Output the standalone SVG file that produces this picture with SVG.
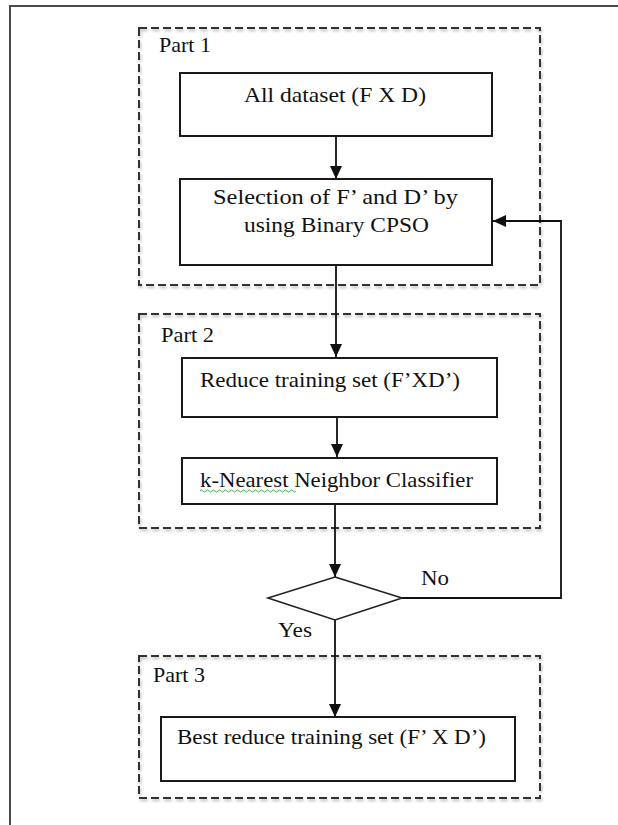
<svg xmlns="http://www.w3.org/2000/svg" width="618" height="825" viewBox="0 0 618 825">
  <style>
    .frame { fill: none; stroke: #4a4a4a; stroke-width: 2; }
    .part { fill: none; stroke: #333; stroke-width: 2; stroke-dasharray: 8 4; filter: url(#shadow); }
    .box { fill: #fff; stroke: #1a1a1a; stroke-width: 2; }
    .dec { fill: #fff; stroke: #222; stroke-width: 1.6; }
    .conn { fill: none; stroke: #111; stroke-width: 1.8; }
    text { font-family: "Liberation Serif", "Times New Roman", serif; font-size: 22px; fill: #111; }
    .squiggle { fill: none; stroke: #4caf50; stroke-width: 1; }
  </style>
  <defs>
    <filter id="shadow" x="-5%" y="-5%" width="110%" height="110%">
      <feGaussianBlur in="SourceAlpha" stdDeviation="1.5"/>
      <feOffset dx="1" dy="2" result="b"/>
      <feComponentTransfer><feFuncA type="linear" slope="0.3"/></feComponentTransfer>
      <feMerge><feMergeNode/><feMergeNode in="SourceGraphic"/></feMerge>
    </filter>
    <marker id="arrow" markerUnits="userSpaceOnUse" markerWidth="14" markerHeight="12" refX="13" refY="6" orient="auto">
      <path d="M0,0 L13,6 L0,12 z" fill="#111"/>
    </marker>
  </defs>

  <rect width="618" height="825" fill="#fff"/>
  <path class="frame" d="M10,825 V6 H618"/>

  <g id="part1">
    <rect class="part" x="139" y="28" width="401" height="257"/>
    <text x="159" y="52" textLength="52" lengthAdjust="spacingAndGlyphs">Part 1</text>
  </g>
  <g id="part2">
    <rect class="part" x="139" y="314" width="401" height="214"/>
    <text x="161" y="342" textLength="53" lengthAdjust="spacingAndGlyphs">Part 2</text>
  </g>
  <g id="part3">
    <rect class="part" x="139" y="656" width="401" height="142"/>
    <text x="153" y="682" textLength="52" lengthAdjust="spacingAndGlyphs">Part 3</text>
  </g>

  <g id="connectors">
    <path class="conn" d="M336,136 V179" marker-end="url(#arrow)"/>
    <path class="conn" d="M336,265 V357" marker-end="url(#arrow)"/>
    <path class="conn" d="M337,417 V457" marker-end="url(#arrow)"/>
    <path class="conn" d="M335,504 V577" marker-end="url(#arrow)"/>
    <path class="conn" d="M335,620 V717" marker-end="url(#arrow)"/>
    <path class="conn" d="M402,598 H561 V221 H493" marker-end="url(#arrow)"/>
    <text x="421" y="585" textLength="28" lengthAdjust="spacingAndGlyphs">No</text>
    <text x="278" y="637" textLength="34" lengthAdjust="spacingAndGlyphs">Yes</text>
  </g>

  <g id="all-dataset">
    <rect class="box" x="180" y="73" width="312" height="63"/>
    <text x="244" y="102" textLength="182" lengthAdjust="spacingAndGlyphs">All dataset (F X D)</text>
  </g>
  <g id="selection">
    <rect class="box" x="180" y="179" width="312" height="86"/>
    <text x="213" y="204" textLength="245" lengthAdjust="spacingAndGlyphs">Selection of F’ and D’ by</text>
    <text x="244" y="232" textLength="185" lengthAdjust="spacingAndGlyphs">using Binary CPSO</text>
  </g>
  <g id="reduce">
    <rect class="box" x="182" y="358" width="315" height="59"/>
    <text x="200" y="387" textLength="260" lengthAdjust="spacingAndGlyphs">Reduce training set (F’XD’)</text>
  </g>
  <g id="knn">
    <rect class="box" x="182" y="458" width="315" height="46"/>
    <text x="200" y="487" textLength="273" lengthAdjust="spacingAndGlyphs">k-Nearest Neighbor Classifier</text>
    <path class="squiggle" d="M200,491 q1.5,-2 3,0 t3,0 t3,0 t3,0 t3,0 t3,0 t3,0 t3,0 t3,0 t3,0 t3,0 t3,0 t3,0 t3,0 t3,0 t3,0 t3,0 t3,0 t3,0 t3,0 t3,0 t3,0 t3,0 t3,0 t3,0 t3,0 t3,0 t3,0 t3,0 t3,0 t3,0 t3,0"/>
  </g>
  <g id="decision">
    <polygon class="dec" points="335,577 402,598 335,620 268,598"/>
  </g>
  <g id="best">
    <rect class="box" x="161" y="717" width="354" height="64"/>
    <text x="177" y="744" textLength="309" lengthAdjust="spacingAndGlyphs">Best reduce training set (F’ X D’)</text>
  </g>
</svg>
